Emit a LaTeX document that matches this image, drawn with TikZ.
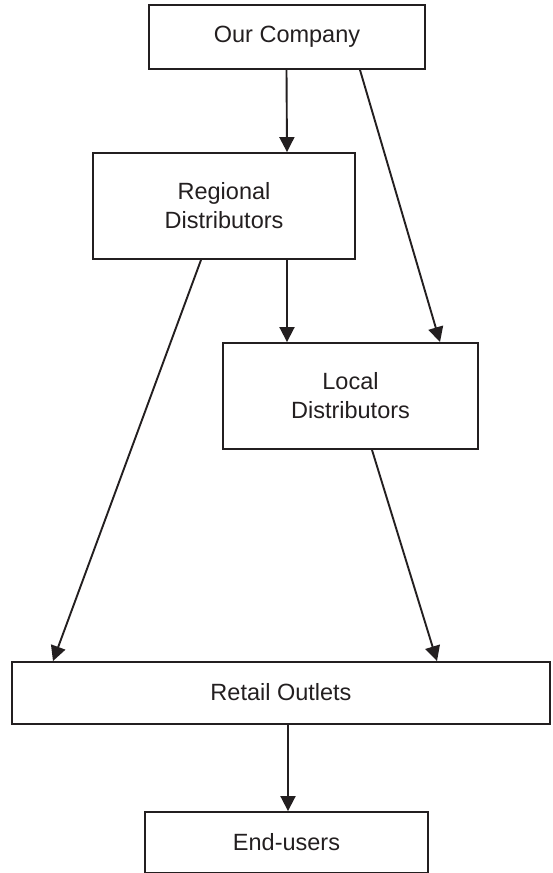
\documentclass[tikz,border=0pt]{standalone}
\usepackage{fontspec}
\setmainfont{Liberation Sans}
\usetikzlibrary{arrows.meta}
\definecolor{ink}{HTML}{231F20}
\tikzset{
  box/.style={draw=ink, line width=1.9pt, rectangle, inner sep=0pt, align=center,
    font=\fontsize{23.5}{29}\selectfont, text=ink},
  arr/.style={draw=ink, line width=1.9pt, -{Triangle[length=15pt,width=15pt]}}
}
\begin{document}
\begin{tikzpicture}[x=1pt,y=-1pt]
\useasboundingbox (0,0) rectangle (552,873);
\node[box, minimum width=276pt, minimum height=64pt] (oc) at (287,37) {Our Company};
\node[box, minimum width=262pt, minimum height=106pt] (rd) at (224,206) {Regional\\Distributors};
\node[box, minimum width=255pt, minimum height=106pt] (lo) at (350.5,396) {Local\\Distributors};
\node[box, minimum width=538pt, minimum height=62pt] (ro) at (281,693) {\raisebox{3pt}{Retail Outlets}};
\node[box, minimum width=283pt, minimum height=61pt] (eu) at (286.5,842.5) {End-users};
\draw[arr] ([xshift=-0.5pt]oc.south) -- ([xshift=63pt]rd.north);
\draw[arr] ([xshift=73pt]oc.south) -- ([xshift=89.5pt]lo.north);
\draw[arr] ([xshift=-23pt]rd.south) -- ([xshift=-228pt]ro.north);
\draw[arr] ([xshift=63pt]rd.south) -- ([xshift=-63.5pt]lo.north);
\draw[arr] ([xshift=21.5pt]lo.south) -- ([xshift=156pt]ro.north);
\draw[arr] ([xshift=7pt]ro.south) -- ([xshift=1.5pt]eu.north);
\end{tikzpicture}
\end{document}
